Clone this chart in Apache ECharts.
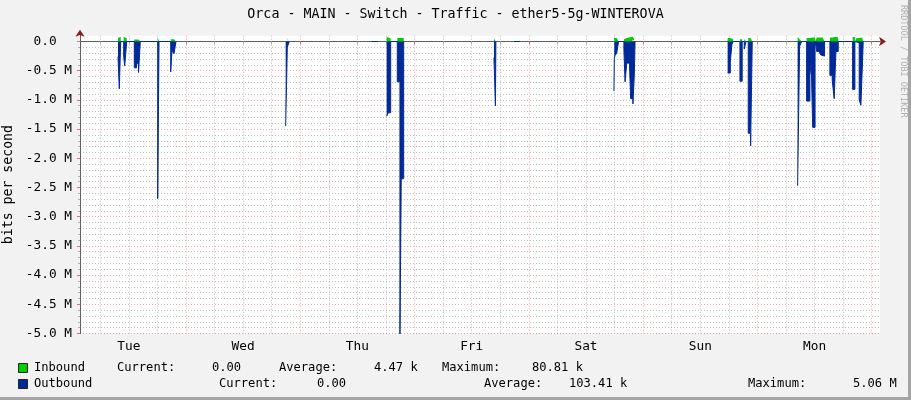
<!DOCTYPE html>
<html><head><meta charset="utf-8">
<script src="https://cdn.jsdelivr.net/npm/echarts@6/dist/echarts.min.js"></script>
<style>html,body{margin:0;padding:0;background:#f2f2f2}#c{width:911px;height:400px}</style>
</head><body><div id="c"></div><script>
// ---- axis / tick definitions (hours from Tuesday 00:00) ----
const XMIN = 1.74, XMAX = 169.74;
const dayNames = ['Tue','Wed','Thu','Fri','Sat','Sun','Mon'];
const noonHours = [12, 36, 60, 84, 108, 132, 156];
const dayBoundaries = [24, 48, 72, 96, 120, 144, 168];
const sixHourMarks = [6, 12, 18, 30, 36, 42, 54, 60, 66, 78, 84, 90, 102, 108, 114, 126, 132, 138, 150, 156, 162];
const yMajorM = [-5, -4.5, -4, -3.5, -3, -2.5, -2, -1.5, -1, -0.5, 0];
const yMinorM = [-4.9,-4.8,-4.7,-4.6,-4.4,-4.3,-4.2,-4.1,-3.9,-3.8,-3.7,-3.6,-3.4,-3.3,-3.2,-3.1,-2.9,-2.8,-2.7,-2.6,-2.4,-2.3,-2.2,-2.1,-1.9,-1.8,-1.7,-1.6,-1.4,-1.3,-1.2,-1.1,-0.9,-0.8,-0.7,-0.6,-0.4,-0.3,-0.2,-0.1];

// ---- data: sample time (h), outbound (Mbit/s, drawn negative), inbound (kbit/s); null = no data ----
const sampleHours = [
  9.72, 9.99, 10.29, 10.92, 11.13, 11.55, 13.14, 13.60, 14.03, 14.40, 18.06, 18.33, 20.79, 21.06, 21.48, 21.90, 21.90,
  44.93, 45.27, 45.69, 45.69,
  62.99, 64.25, 64.25,
  66.14, 66.48, 66.98, 68.37, 68.93, 69.20, 69.71, 69.71,
  88.67, 88.98, 89.08, 89.08,
  92.87, 94.13, 94.13,
  113.87, 113.95, 114.10, 114.45, 114.84, 115.96, 116.20, 116.56, 117.03, 117.38, 117.86, 118.13, 118.30, 118.30,
  137.74, 138.30, 138.64, 138.92, 140.33, 140.80, 141.23, 141.60, 142.07, 142.57, 142.91, 142.91,
  152.44, 152.86, 153.28, 154.33, 155.02, 155.30, 155.60, 156.10, 156.22, 156.43, 156.90, 157.30, 157.70, 158.10,
  159.22, 159.70, 160.12, 160.48, 160.97, 163.99, 164.47, 164.83, 165.37, 165.73, 166.00, 166.21, 166.21
];
const outboundM = [
  -0.26, -0.81, 0, -0.26, -0.42, 0, -0.45, -0.38, -0.53, 0, -2.69, 0, -0.52, -0.15, -0.21, 0, null,
  -1.45, -0.10, 0, null,
  0, 0, null,
  -1.28, -1.22, 0, -0.69, -5.06, -2.35, 0, null,
  -0.28, -1.10, 0, null,
  0, 0, null,
  -0.85, -0.28, -0.24, -0.20, 0, -0.13, -0.69, -0.37, -0.15, -0.98, -1.07, -0.60, 0, null,
  -0.54, -0.35, -0.05, 0, -0.68, 0, -0.13, 0, -1.57, -1.79, 0, null,
  -2.47, -0.08, 0, -1.02, -0.58, -0.35, -1.47, -0.10, 0, -0.17, -0.19, -0.23, -0.25, 0,
  -0.58, -0.66, -0.98, -0.17, 0, -0.82, 0, -0.02, -1.00, -1.09, -0.50, 0, null
];
const inboundK = [
  60, 80, 0, 75, 60, 0, 35, 35, 30, 0, 75, 0, 40, 40, 35, 0, null,
  70, 30, 0, null,
  0, 0, null,
  80, 50, 0, 60, 60, 65, 0, null,
  50, 30, 0, null,
  0, 0, null,
  60, 60, 60, 50, 0, 40, 60, 70, 75, 80, 60, 30, 0, null,
  60, 60, 40, 0, 40, 0, 40, 0, 60, 80, 0, null,
  75, 40, 0, 60, 70, 70, 70, 50, 0, 70, 70, 70, 60, 0,
  70, 80, 80, 70, 0, 75, 0, 60, 75, 70, 40, 0, null
];

// ---- legend texts ----
const legendRows = [
  ['Inbound', 'Current:', '0.00', 'Average:', '4.47 k', 'Maximum:', '80.81 k'],
  ['Outbound', 'Current:', '0.00', 'Average:', '103.41 k', 'Maximum:', '5.06 M']
];
const legendColors = ['#00CF00', '#002A97'];
const titleText = 'Orca - MAIN - Switch - Traffic - ether5-5g-WINTEROVA';

const FONT = '"DejaVu Sans Mono"';
const FS = 12.8;
const LFS = 12.1;
const chart = echarts.init(document.getElementById('c'), null, {renderer: 'canvas'});

const outData = sampleHours.map((h, i) => [h, outboundM[i] === null ? '-' : outboundM[i] * 1e6]);
const inData = sampleHours.map((h, i) => [h, inboundK[i] === null ? '-' : inboundK[i] * 1e3]);

const redGrid = {color: 'rgba(225,70,70,0.45)', width: 1, type: [1, 2]};
const greyGrid = {color: 'rgba(130,130,130,0.5)', width: 1, type: [1, 2]};

const legendX = [
  [34, 117, 212, 279, 374, 442, 532],
  [34, 219, 317, 484, 569, 748, 853]
];
const legendY = [368, 384];
const graphics = [
  {type: 'text', x: 455.5, y: 15, style: {text: titleText, font: '13.3px ' + FONT, fill: '#000', align: 'center', verticalAlign: 'middle'}},
  {type: 'text', x: 903, y: 5, rotation: -Math.PI / 2, style: {text: 'RRDTOOL / TOBI OETIKER', font: '8.5px ' + FONT, fill: '#b0b0b0', align: 'left', verticalAlign: 'middle'}},
  {type: 'rect', shape: {x: 908, y: 0, width: 3, height: 400}, style: {fill: '#a4a4a4'}},
  {type: 'rect', shape: {x: 0, y: 397, width: 911, height: 3}, style: {fill: '#a4a4a4'}}
];
legendRows.forEach((row, r) => {
  graphics.push({type: 'rect', shape: {x: 18.5, y: legendY[r] - 4.5, width: 9, height: 9}, style: {fill: legendColors[r], stroke: '#222', lineWidth: 1}});
  row.forEach((t, k) => {
    graphics.push({type: 'text', x: legendX[r][k], y: legendY[r], style: {text: t, font: LFS + 'px ' + FONT, fill: '#000', align: 'left', verticalAlign: 'middle'}});
  });
});

const xBase = {type: 'value', min: XMIN, max: XMAX, position: 'bottom'};
const yBase = {type: 'value', min: -5e6, max: 1e5, position: 'left'};

chart.setOption({
  animation: false,
  backgroundColor: '#f2f2f2',
  grid: {left: 80, right: 31, top: 35.66, bottom: 66.5, containLabel: false, outerBoundsMode: 'none',
         show: true, backgroundColor: '#ffffff', borderWidth: 0},
  xAxis: [
    Object.assign({}, xBase, {
      axisLine: {show: true, lineStyle: {color: '#8b1c1c'}, symbol: ['none', 'arrow'], symbolSize: [7, 7], symbolOffset: [0, 6]},
      axisTick: {show: false}, splitLine: {show: false},
      axisLabel: {customValues: noonHours, formatter: v => dayNames[noonHours.indexOf(Math.round(v))] || '', fontFamily: FONT, fontSize: FS, color: '#000', margin: 7}
    }),
    Object.assign({}, xBase, {
      axisLine: {show: true, lineStyle: {color: '#606060'}},
      axisTick: {show: true, customValues: dayBoundaries, length: 3, lineStyle: {color: '#e07070'}},
      axisLabel: {show: false}, splitLine: {show: true, lineStyle: redGrid}
    }),
    Object.assign({}, xBase, {
      axisLine: {show: false},
      axisTick: {show: true, customValues: sixHourMarks, length: 3, lineStyle: {color: '#b0b0b0'}},
      axisLabel: {show: false}, splitLine: {show: true, lineStyle: greyGrid}
    })
  ],
  yAxis: [
    Object.assign({}, yBase, {
      axisLine: {show: true, lineStyle: {color: '#8b1c1c'}, symbol: ['none', 'arrow'], symbolSize: [7, 7], symbolOffset: [0, 6]},
      axisTick: {show: false}, splitLine: {show: false},
      axisLabel: {customValues: yMajorM.map(v => v * 1e6), formatter: v => Math.abs(v) < 1 ? '0.0  ' : (v / 1e6).toFixed(1) + ' M', fontFamily: FONT, fontSize: FS, color: '#000', margin: 8},
      name: 'bits per second', nameLocation: 'middle', nameGap: 61, nameRotate: 90,
      nameTextStyle: {fontFamily: FONT, fontSize: 13.2, color: '#000'}
    }),
    Object.assign({}, yBase, {
      axisLine: {show: true, lineStyle: {color: '#606060'}},
      axisTick: {show: true, customValues: yMajorM.map(v => v * 1e6), length: 3, lineStyle: {color: '#e07070'}},
      axisLabel: {show: false}, splitLine: {show: true, lineStyle: redGrid}
    }),
    Object.assign({}, yBase, {
      axisLine: {show: false},
      axisTick: {show: true, customValues: yMinorM.map(v => v * 1e6), length: 2, lineStyle: {color: '#b0b0b0'}},
      axisLabel: {show: false}, splitLine: {show: true, lineStyle: greyGrid}
    })
  ],
  series: [
    {name: 'Inbound', type: 'line', xAxisIndex: 0, yAxisIndex: 0, step: 'end', showSymbol: false, connectNulls: false,
     lineStyle: {width: 0, opacity: 0}, areaStyle: {color: '#00CF00', opacity: 1}, data: inData, z: 2},
    {name: 'Outbound', type: 'line', xAxisIndex: 0, yAxisIndex: 0, step: 'end', showSymbol: false, connectNulls: false,
     lineStyle: {width: 1, color: '#002A97'}, areaStyle: {color: '#002A97', opacity: 1}, data: outData, z: 3}
  ],
  graphic: graphics
});
</script></body></html>
